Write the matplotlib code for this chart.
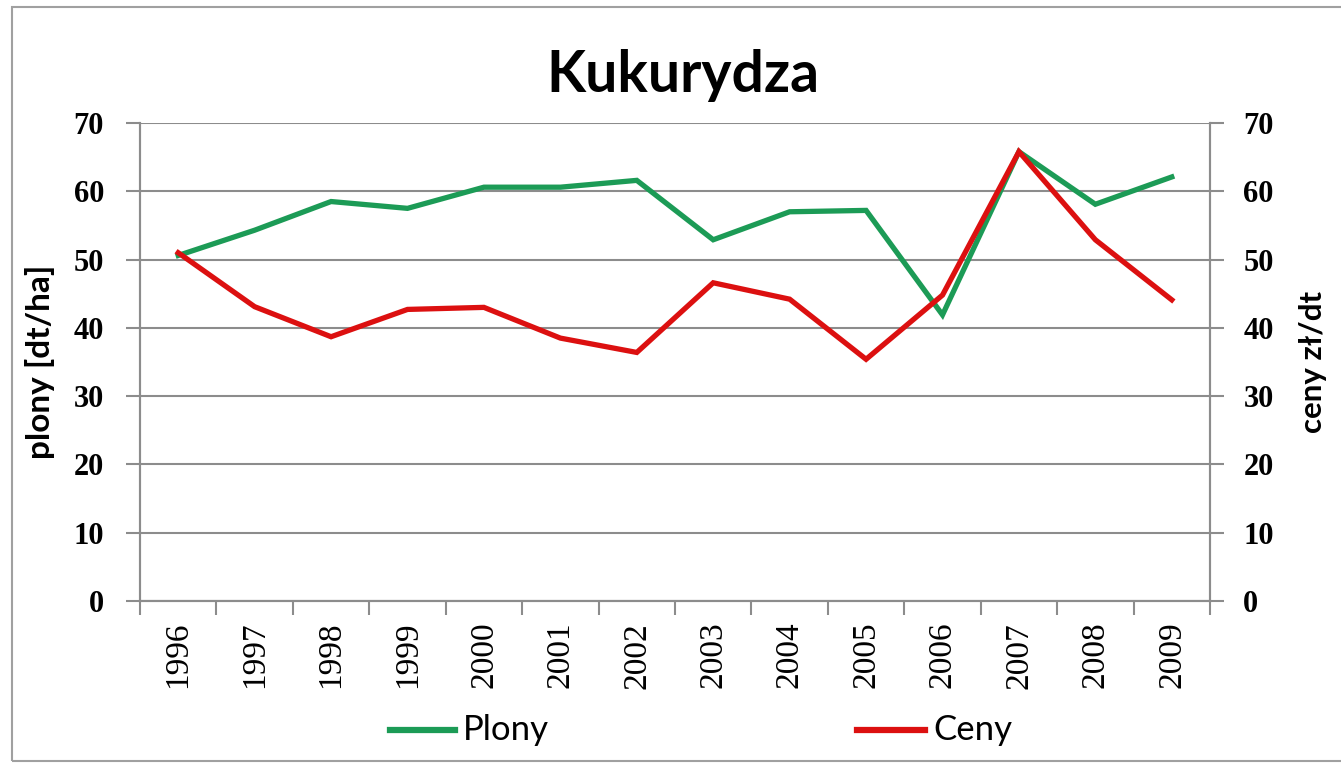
import matplotlib
matplotlib.use("Agg")
import matplotlib.pyplot as plt
from matplotlib.patches import Rectangle
from matplotlib.lines import Line2D

years = ["1996", "1997", "1998", "1999", "2000", "2001", "2002",
         "2003", "2004", "2005", "2006", "2007", "2008", "2009"]
plony = [50.6, 54.3, 58.5, 57.5, 60.6, 60.6, 61.6,
         52.9, 57.0, 57.2, 41.9, 65.8, 58.1, 62.1]
ceny = [51.0, 43.1, 38.7, 42.7, 43.0, 38.5, 36.4,
        46.6, 44.2, 35.4, 44.8, 65.8, 52.9, 44.1]
yticks = [0, 10, 20, 30, 40, 50, 60, 70]

GREEN = "#1c9b56"
RED = "#dc1010"
GRAY = "#8c8c8c"

W, H = 1341, 764
fig = plt.figure(figsize=(W / 100, H / 100), dpi=100)

# outer chart frame
fig.patches.append(Rectangle((12 / W, 1 - 761 / H), (W + 10) / W, (761 - 7) / H,
                             transform=fig.transFigure, fill=False,
                             edgecolor="#a0a0a0", linewidth=1.5))

l, r, t, b = 140, 1210, 123, 601
ax = fig.add_axes([l / W, 1 - b / H, (r - l) / W, (b - t) / H])
ax2 = ax.twinx()

x = list(range(len(years)))
ax.plot(x, plony, color=GREEN, lw=3.8, solid_joinstyle="miter", zorder=3)
ax2.plot(x, ceny, color=RED, lw=3.8, solid_joinstyle="miter", zorder=3)

for a in (ax, ax2):
    a.set_ylim(0, 70)
    a.set_xlim(-0.5, len(years) - 0.5)
    a.set_yticks(yticks)
    for s in a.spines.values():
        s.set_color(GRAY)
        s.set_linewidth(1.5)
    a.spines["top"].set_visible(False)

ax.yaxis.grid(True, color=GRAY, linewidth=1.5)
ax.set_axisbelow(True)

tickfont = dict(family="Liberation Serif", size=22, weight="bold")
ax.set_yticklabels([str(v) for v in yticks], **tickfont)
ax2.set_yticklabels([str(v) for v in yticks], **tickfont)
ax.tick_params(axis="y", length=10, width=1.5, color=GRAY, pad=16)
ax2.tick_params(axis="y", length=10, width=1.5, color=GRAY, pad=14)

# category ticks at boundaries, labels at centers
ax.set_xticks([i - 0.5 for i in range(len(years) + 1)])
ax.set_xticklabels([])
ax.set_xticks(x, minor=True)
ax.set_xticklabels(years, minor=True, rotation=90, family="Liberation Serif",
                   size=24, weight="normal")
ax.tick_params(axis="x", which="major", length=10, width=1.5, color=GRAY)
ax.tick_params(axis="x", which="minor", length=0, pad=15)

ax.set_ylabel("plony [dt/ha]", family="Lato", weight="bold", size=24, labelpad=13)
ax2.set_ylabel("ceny zł/dt", family="Lato", weight="bold", size=22.5,
               rotation=90, labelpad=18)

fig.text(683 / W, 1 - 76 / H, "Kukurydza", ha="center", va="center",
         family="Lato", weight="bold", size=41)

# legend
ly = 1 - 730 / H
fig.add_artist(Line2D([390 / W, 455 / W], [ly, ly], color=GREEN, lw=4.5,
                      transform=fig.transFigure))
fig.text(463 / W, ly, "Plony", va="center", ha="left", family="Lato", size=25)
fig.add_artist(Line2D([857 / W, 925 / W], [ly, ly], color=RED, lw=4.5,
                      transform=fig.transFigure))
fig.text(933 / W, ly, "Ceny", va="center", ha="left", family="Lato", size=25)

fig.savefig("out.png", dpi=100)
